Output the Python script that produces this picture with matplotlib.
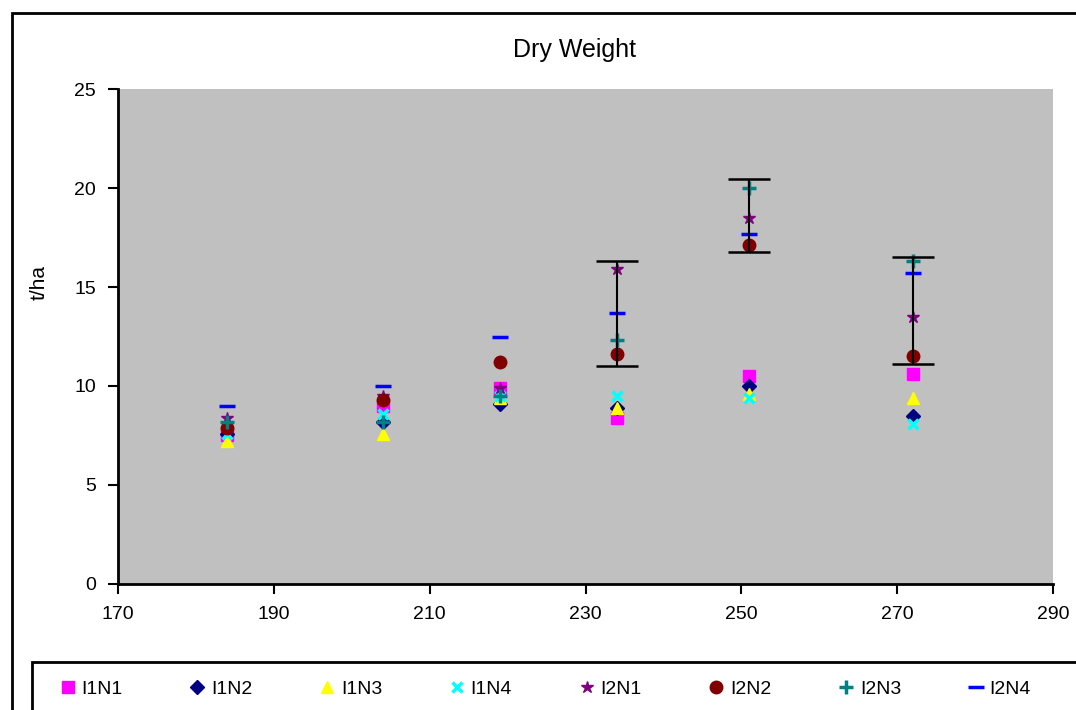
import matplotlib
matplotlib.use('Agg')
import matplotlib.pyplot as plt
from matplotlib.patches import Rectangle

plt.rcParams['font.family'] = ['Liberation Sans', 'DejaVu Sans']

# days after sowing (x) for each sampling date
days = [184, 204, 219, 234, 251, 272]

series_names = ['I1N1', 'I1N2', 'I1N3', 'I1N4', 'I2N1', 'I2N2', 'I2N3', 'I2N4']
I1N1 = [7.5, 9.0, 9.9, 8.4, 10.5, 10.6]
I1N2 = [7.6, 8.2, 9.1, 8.9, 10.0, 8.5]
I1N3 = [7.2, 7.6, 9.4, 8.9, 9.6, 9.4]
I1N4 = [7.6, 8.6, 9.5, 9.5, 9.4, 8.1]
I2N1 = [8.4, 9.5, 9.9, 15.9, 18.5, 13.5]
I2N2 = [7.9, 9.3, 11.2, 11.6, 17.1, 11.5]
I2N3 = [8.2, 8.2, 9.5, 12.3, 20.0, 16.3]
I2N4 = [9.0, 10.0, 12.5, 13.7, 17.7, 15.7]

# error bars shown only for the last three dates
err_days = [234, 251, 272]
err_mid = [13.65, 18.6, 13.8]
err_half = [2.65, 1.85, 2.7]

colors = ['#FF00FF', '#000080', '#FFFF00', '#00FFFF', '#800080', '#800000', '#008080', '#0000FF']
markers = ['s', 'D', '^', 'x', '*', 'o', '+', '_']
sizes = [8, 7, 8, 7, 9, 9, 10, 11]

fig = plt.figure(figsize=(10.76, 7.10), dpi=100)
fig.patch.set_facecolor('white')
ax = fig.add_axes([0.1097, 0.1775, 0.8689, 0.6971])
ax.set_facecolor('#C0C0C0')

all_vals = [I1N1, I1N2, I1N3, I1N4, I2N1, I2N2, I2N3, I2N4]
for name, vals, c, m, s in zip(series_names, all_vals, colors, markers, sizes):
    ax.plot(days, vals, linestyle='none', marker=m, color=c, markersize=s,
            markeredgewidth=2.5 if m in ('x', '+', '_') else 1, label=name)

ax.errorbar(err_days, err_mid, yerr=err_half, fmt='none', ecolor='black',
            elinewidth=1.5, capsize=15, capthick=1.8)

ax.set_xlim(170, 290)
ax.set_ylim(0, 25)
ax.set_xticks(range(170, 291, 20))
ax.set_yticks(range(0, 26, 5))
ax.tick_params(labelsize=14, length=7, width=1.5, direction='out', pad=9)
for side in ['top', 'right']:
    ax.spines[side].set_visible(False)
for side in ['left', 'bottom']:
    ax.spines[side].set_linewidth(2)

fig.text(0.534, 1 - 50 / 710, 'Dry Weight', ha='center', va='center', fontsize=18)
fig.text(0.036, 1 - 282 / 710, 't/ha', rotation=90, ha='center', va='center', fontsize=15)

# outer chart frame
fig.patches.append(Rectangle((12 / 1076, -0.05), 1.2, 1 - 13 / 710 + 0.05,
                             transform=fig.transFigure, fill=False,
                             edgecolor='black', linewidth=2))
# legend box
fig.patches.append(Rectangle((32 / 1076, -0.05), 1.2, 1 - 662 / 710 + 0.05,
                             transform=fig.transFigure, fill=False,
                             edgecolor='black', linewidth=2))

leg = fig.legend(loc='center left', bbox_to_anchor=(58 / 1076, 1 - 689 / 710),
                 ncol=8, fontsize=14, frameon=False,
                 handletextpad=0.2, borderaxespad=0, handlelength=1.0,
                 columnspacing=3.35, borderpad=0)

fig.savefig('out.png', dpi=100)
